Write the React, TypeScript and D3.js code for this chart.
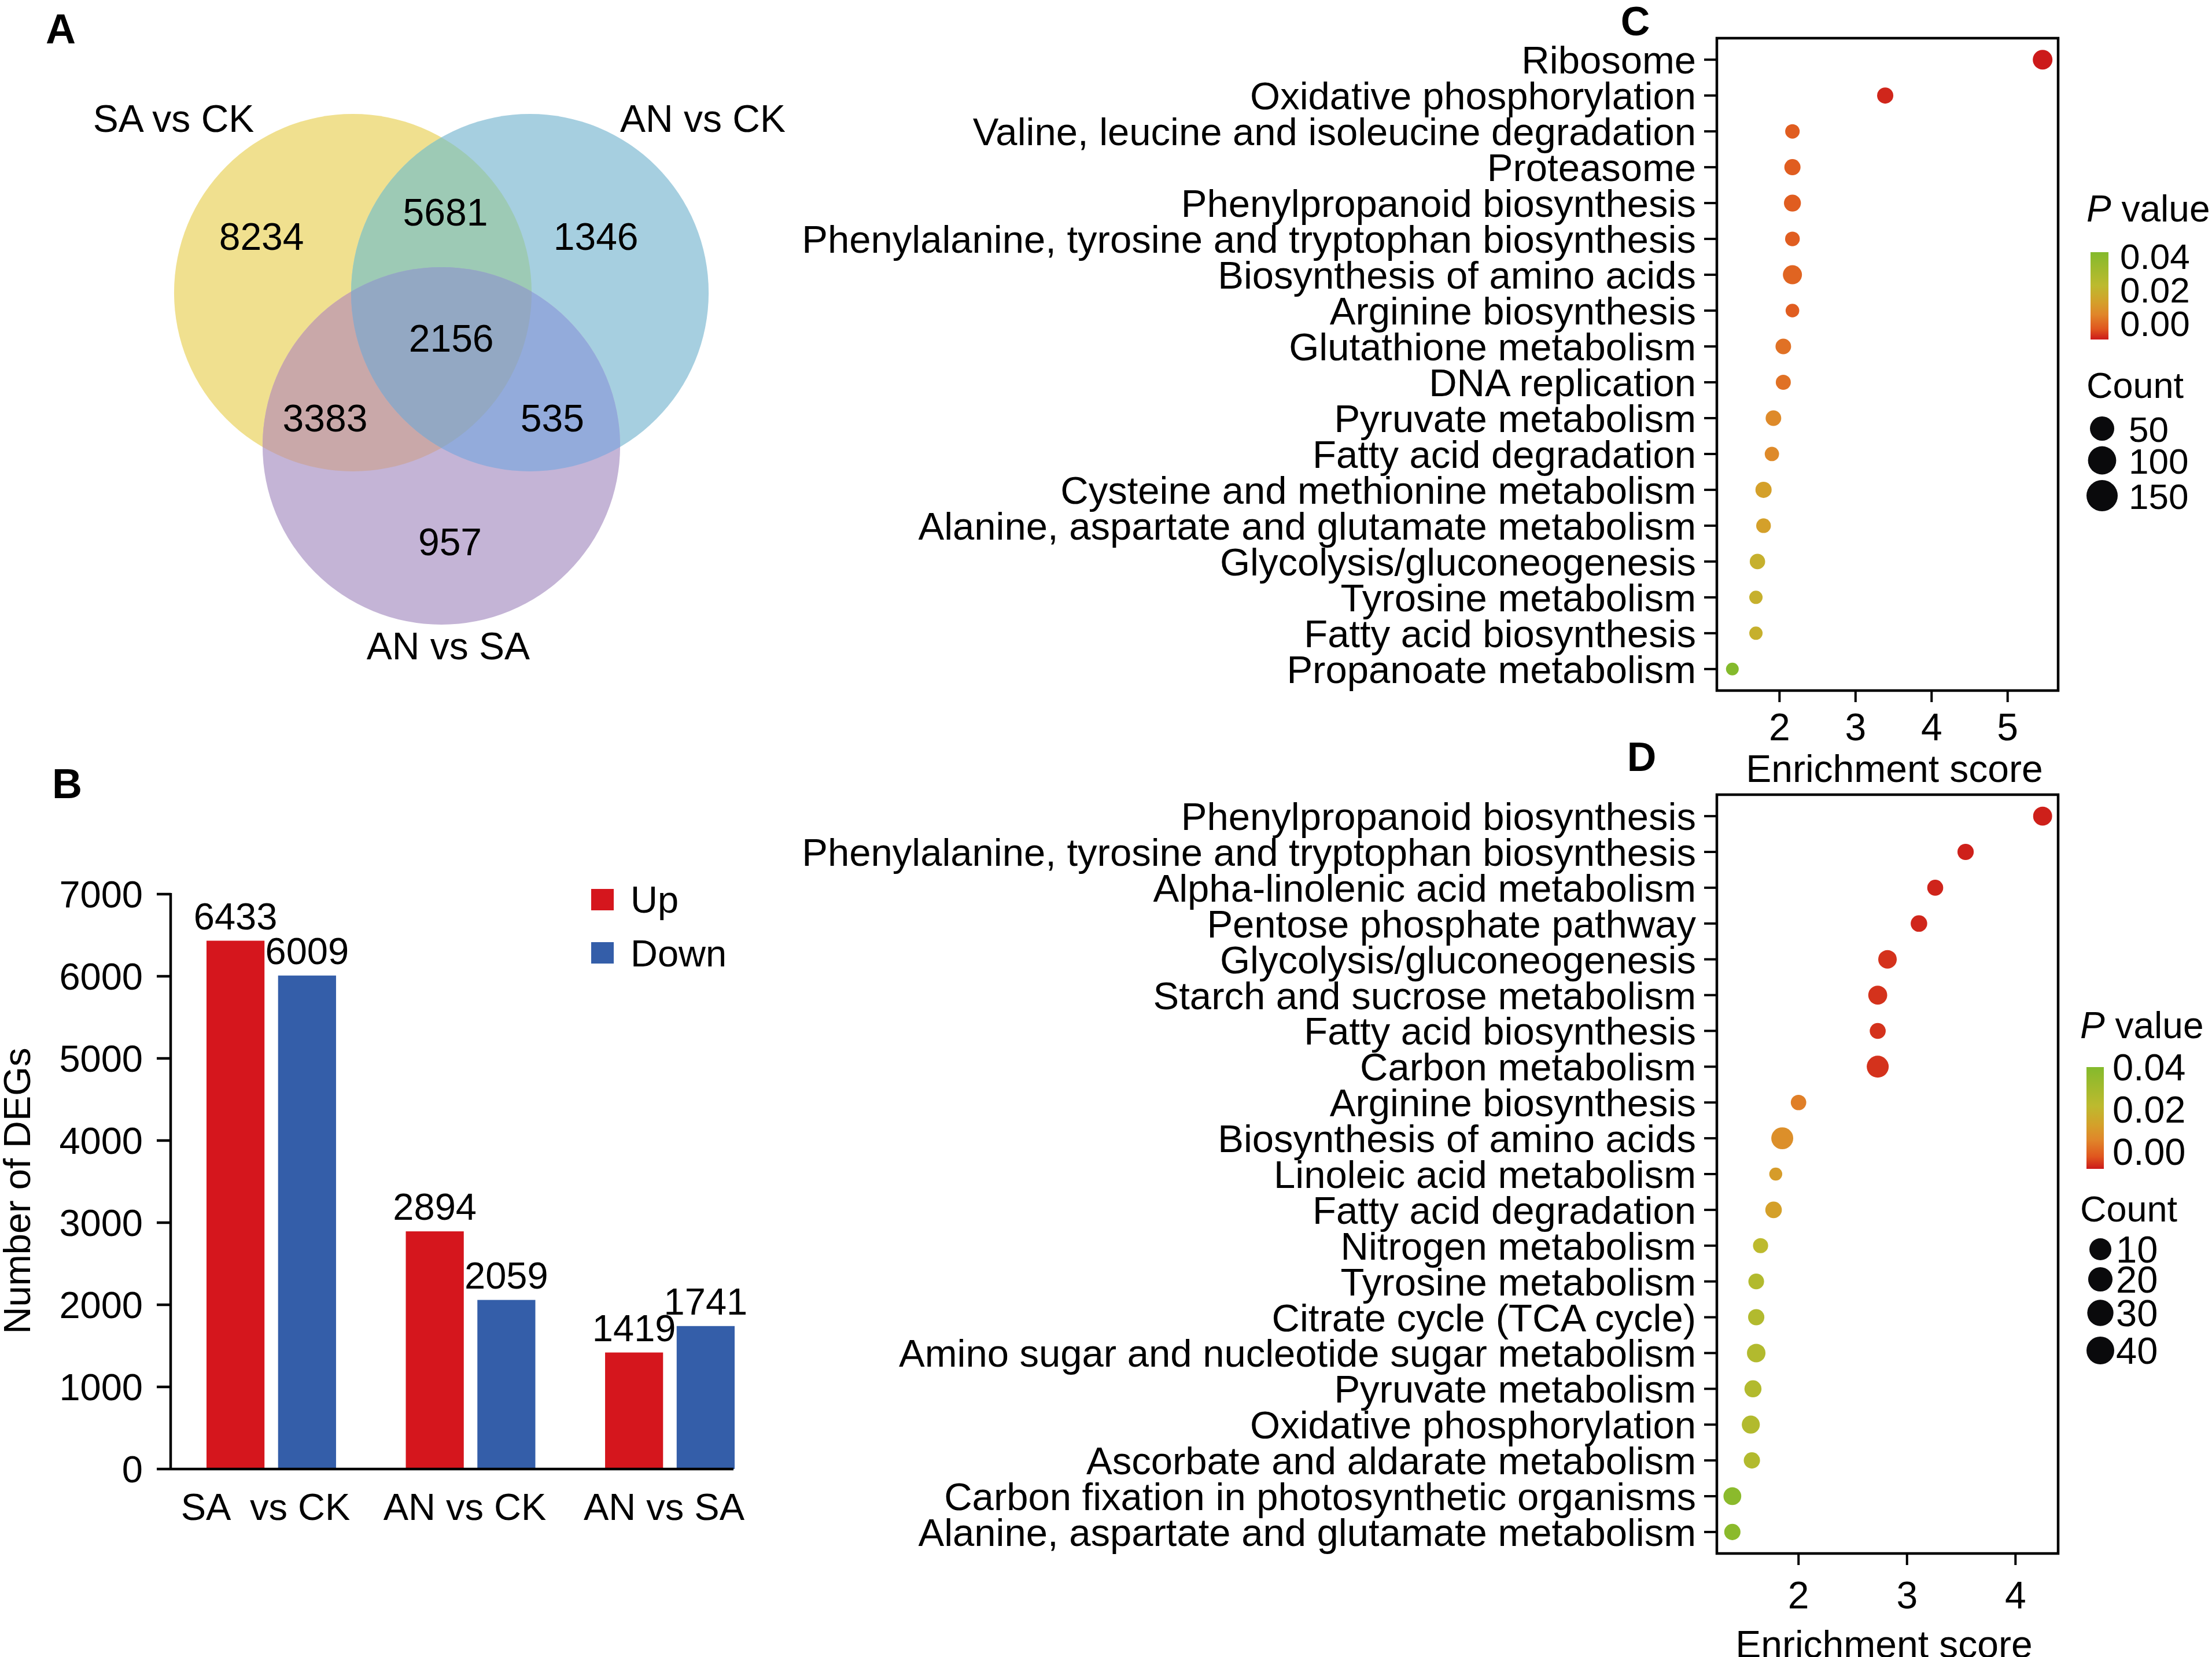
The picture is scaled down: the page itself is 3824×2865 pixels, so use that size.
import * as d3 from 'd3';

const FONT = '"Liberation Sans", Arial, Helvetica, sans-serif';
const W = 3824;
const H = 2865;

// ---- Panel A: Venn ----
const vennSets = ['SA vs CK', 'AN vs CK', 'AN vs SA'];
const vennSingleColors = ['#F0E08F', '#A6CFE0', '#C4B4D6'];
// pair colours: SA∩AN(CK), SA∩ANSA, ANCK∩ANSA
const vennPairColors = ['#9DCAB5', '#C9A8A9', '#93ABDB'];
const vennTripleColor = '#93A8C3';
const vennCounts = [8234, 5681, 1346, 2156, 3383, 535, 957];

// ---- Panel B: DEG bars ----
const degGroups = ['SA  vs CK', 'AN vs CK', 'AN vs SA'];
const degSeries = ['Up', 'Down'];
const degUp = [6433, 2894, 1419];
const degDown = [6009, 2059, 1741];
const degTicks = [0, 1000, 2000, 3000, 4000, 5000, 6000, 7000];
const degColors = ['#D5161D', '#345EA9'];

// ---- Panel C: KEGG enrichment ----
const cTerms = [
  'Ribosome',
  'Oxidative phosphorylation',
  'Valine, leucine and isoleucine degradation',
  'Proteasome',
  'Phenylpropanoid biosynthesis',
  'Phenylalanine, tyrosine and tryptophan biosynthesis',
  'Biosynthesis of amino acids',
  'Arginine biosynthesis',
  'Glutathione metabolism',
  'DNA replication',
  'Pyruvate metabolism',
  'Fatty acid degradation',
  'Cysteine and methionine metabolism',
  'Alanine, aspartate and glutamate metabolism',
  'Glycolysis/gluconeogenesis',
  'Tyrosine metabolism',
  'Fatty acid biosynthesis',
  'Propanoate metabolism',
];
const cScore = [5.46, 3.39, 2.17, 2.17, 2.17, 2.17, 2.17, 2.17, 2.05, 2.05, 1.92, 1.9, 1.79, 1.79, 1.71, 1.69, 1.69, 1.38];
const cCount = [150, 78, 47, 78, 93, 51, 137, 34, 67, 57, 67, 45, 78, 51, 63, 29, 29, 20];
const cP = [0.0, 0.001, 0.006, 0.006, 0.006, 0.006, 0.007, 0.006, 0.009, 0.009, 0.013, 0.013, 0.018, 0.018, 0.023, 0.023, 0.023, 0.042];
const cXTicks = [2, 3, 4, 5];
const cCountLegend = [50, 100, 150];

// ---- Panel D: KEGG enrichment ----
const dTerms = [
  'Phenylpropanoid biosynthesis',
  'Phenylalanine, tyrosine and tryptophan biosynthesis',
  'Alpha-linolenic acid metabolism',
  'Pentose phosphate pathway',
  'Glycolysis/gluconeogenesis',
  'Starch and sucrose metabolism',
  'Fatty acid biosynthesis',
  'Carbon metabolism',
  'Arginine biosynthesis',
  'Biosynthesis of amino acids',
  'Linoleic acid metabolism',
  'Fatty acid degradation',
  'Nitrogen metabolism',
  'Tyrosine metabolism',
  'Citrate cycle (TCA cycle)',
  'Amino sugar and nucleotide sugar metabolism',
  'Pyruvate metabolism',
  'Oxidative phosphorylation',
  'Ascorbate and aldarate metabolism',
  'Carbon fixation in photosynthetic organisms',
  'Alanine, aspartate and glutamate metabolism',
];
const dScore = [4.25, 3.54, 3.26, 3.11, 2.82, 2.73, 2.73, 2.73, 2.0, 1.85, 1.79, 1.77, 1.65, 1.61, 1.61, 1.61, 1.58, 1.56, 1.57, 1.39, 1.39];
const dCount = [26, 15, 14, 16, 24, 26, 14, 40, 12, 40, 4, 16, 11, 13, 15, 24, 18, 22, 15, 21, 15];
const dP = [0.0005, 0.0005, 0.0008, 0.001, 0.002, 0.002, 0.002, 0.002, 0.011, 0.014, 0.017, 0.018, 0.026, 0.029, 0.029, 0.029, 0.029, 0.029, 0.029, 0.04, 0.04];
const dXTicks = [2, 3, 4];
const dCountLegend = [10, 20, 30, 40];

const pLegendTicks = [0.04, 0.02, 0.0];
const pStops = [0, 0.005, 0.012, 0.018, 0.026, 0.042];
const pColors = ['#CC1A1A', '#E0561E', '#E0862A', '#D4A02A', '#BDBA2E', '#84BA2C'];

const pColor = d3
  .scaleLinear<string>()
  .domain(pStops)
  .range(pColors)
  .interpolate(d3.interpolateRgb)
  .clamp(true);

// Venn layout in circle-distance units
const vennCentres: [number, number][] = [[-0.5, 0], [0.5, 0], [0, 0.866]];
const vennRadius = 1.01;
const vennPairs: [number, number][] = [[0, 1], [0, 2], [1, 2]];
const vennRegionPos: [number, number][] = [
  [-1.016, -0.317], [0.023, -0.454], [0.873, -0.317], [0.056, 0.258],
  [-0.657, 0.709], [0.627, 0.709], [0.049, 1.407],
];
const vennSetPos: [number, number][] = [[-1.513, -0.984], [1.477, -0.984], [0.039, 1.997]];

const Venn = () => {
  const vx = d3.scaleLinear().domain([-0.5, 0.5]).range([610, 916]);
  const vy = d3.scaleLinear().domain([0, 1]).range([506, 812]);
  const r = vx(vennRadius) - vx(0);
  const circ = (i: number, fill: string, clip?: string) => (
    <circle
      cx={vx(vennCentres[i][0])}
      cy={vy(vennCentres[i][1])}
      r={r}
      fill={fill}
      clipPath={clip ? `url(#${clip})` : undefined}
    />
  );
  return (
    <g>
      <defs>
        {vennCentres.map(([cx, cy], i) => (
          <clipPath key={i} id={`vclip${i}`}>
            <circle cx={vx(cx)} cy={vy(cy)} r={r} />
          </clipPath>
        ))}
      </defs>
      <text x={79} y={75} fontSize={72} fontWeight="bold">A</text>
      {vennCentres.map((_, i) => (
        <g key={`s${i}`}>{circ(i, vennSingleColors[i])}</g>
      ))}
      {vennPairs.map(([a, b], k) => (
        <g key={`p${k}`}>{circ(b, vennPairColors[k], `vclip${a}`)}</g>
      ))}
      <g clipPath="url(#vclip0)">{circ(2, vennTripleColor, 'vclip1')}</g>
      {vennCounts.map((v, i) => (
        <text key={i} x={vx(vennRegionPos[i][0])} y={vy(vennRegionPos[i][1]) + 23} fontSize={66} textAnchor="middle">
          {v}
        </text>
      ))}
      {vennSets.map((s, i) => (
        <text key={s} x={vx(vennSetPos[i][0])} y={vy(vennSetPos[i][1]) + 23} fontSize={66} textAnchor="middle">
          {s}
        </text>
      ))}
    </g>
  );
};

const Bars = () => {
  const x0 = d3.scaleBand().domain(degGroups).range([357, 1270]).paddingInner(0.35).paddingOuter(0);
  const x1 = d3.scaleBand().domain(degSeries).range([0, x0.bandwidth()]).paddingInner(0.19);
  const y = d3.scaleLinear().domain([0, 7000]).range([2540, 1546]);
  const axisX0 = 295;
  const axisX1 = 1268;
  const vals = [degUp, degDown];
  return (
    <g>
      <text x={90} y={1380} fontSize={72} fontWeight="bold">B</text>
      {degGroups.map((g, gi) =>
        degSeries.map((s, si) => {
          const v = vals[si][gi];
          const bx = (x0(g) ?? 0) + (x1(s) ?? 0);
          return (
            <g key={g + s}>
              <rect x={bx} y={y(v)} width={x1.bandwidth()} height={y(0) - y(v)} fill={degColors[si]} />
              <text x={bx + x1.bandwidth() / 2} y={y(v) - 20} fontSize={65} textAnchor="middle">
                {v}
              </text>
            </g>
          );
        }),
      )}
      <line x1={axisX0} x2={axisX0} y1={y(7000) - 2} y2={y(0) + 2} stroke="#000" strokeWidth={4.5} />
      <line x1={axisX0} x2={axisX1} y1={y(0)} y2={y(0)} stroke="#000" strokeWidth={4.5} />
      {degTicks.map((t) => (
        <g key={t}>
          <line x1={axisX0 - 24} x2={axisX0} y1={y(t)} y2={y(t)} stroke="#000" strokeWidth={4.5} />
          <text x={247} y={y(t) + 23} fontSize={65} textAnchor="end">{t}</text>
        </g>
      ))}
      <text transform={`translate(52,${(y(0) + y(7000)) / 2 + 16}) rotate(-90)`} fontSize={65} textAnchor="middle">
        Number of DEGs
      </text>
      {degGroups.map((g) => (
        <text key={g} x={(x0(g) ?? 0) + x0.bandwidth() / 2 - 10} y={2628} fontSize={65} textAnchor="middle" style={{ whiteSpace: 'pre' }}>
          {g}
        </text>
      ))}
      {degSeries.map((s, i) => (
        <g key={s}>
          <rect x={1022} y={1537 + i * 92} width={39} height={37} fill={degColors[i]} />
          <text x={1090} y={1578 + i * 93} fontSize={65}>{s}</text>
        </g>
      ))}
    </g>
  );
};

interface DotProps {
  terms: string[];
  score: number[];
  count: number[];
  p: number[];
  xTicks: number[];
  top: number;
  bottom: number;
  area: d3.ScaleLinear<number, number>;
  letter: string;
  letterX: number;
  letterY: number;
  tickLabelY: number;
  titleX: number;
  titleY: number;
}

const DotPlot = ({ terms, score, count, p, xTicks, top, bottom, area, letter, letterX, letterY, tickLabelY, titleX, titleY }: DotProps) => {
  const left = 2968;
  const right = 3558;
  const [lo, hi] = d3.extent(score) as [number, number];
  const pad = (hi - lo) * 0.05;
  const x = d3.scaleLinear().domain([lo - pad, hi + pad]).range([left, right]);
  const y = d3.scalePoint().domain(terms).range([top, bottom]).padding(0.6);
  return (
    <g>
      <text x={letterX} y={letterY} fontSize={70} fontWeight="bold" textAnchor="middle">{letter}</text>
      {terms.map((t, i) => (
        <circle key={t} cx={x(score[i])} cy={y(t)} r={Math.sqrt(area(count[i]))} fill={pColor(p[i])} />
      ))}
      <rect x={left} y={top} width={right - left} height={bottom - top} fill="none" stroke="#000" strokeWidth={4.5} />
      {terms.map((t) => (
        <g key={t}>
          <line x1={left - 22} x2={left} y1={y(t)} y2={y(t)} stroke="#000" strokeWidth={4} />
          <text x={left - 36} y={(y(t) ?? 0) + 24} fontSize={67} textAnchor="end">{t}</text>
        </g>
      ))}
      {xTicks.map((t) => (
        <g key={t}>
          <line x1={x(t)} x2={x(t)} y1={bottom} y2={bottom + 20} stroke="#000" strokeWidth={4} />
          <text x={x(t)} y={tickLabelY} fontSize={66} textAnchor="middle">{t}</text>
        </g>
      ))}
      <text x={titleX} y={titleY} fontSize={66} textAnchor="middle">Enrichment score</text>
    </g>
  );
};

interface LegendProps {
  id: string;
  titleX: number;
  titleY: number;
  barX: number;
  barTop: number;
  barBottom: number;
  barW: number;
  labelX: number;
  labelTop: number;
  labelBottom: number;
  countTitleY: number;
  counts: number[];
  rScale: d3.ScalePower<number, number>;
  dotX: number;
  dotYs: number[];
  countLabelX: number;
  fontSize: number;
}

const Legend = (lp: LegendProps) => {
  const ly = d3.scaleLinear().domain([0.04, 0]).range([lp.labelTop, lp.labelBottom]);
  const pMax = pStops[pStops.length - 1];
  return (
    <g>
      <defs>
        <linearGradient id={lp.id} x1="0" y1="1" x2="0" y2="0">
          {pStops.map((s, i) => (
            <stop key={s} offset={s / pMax} stopColor={pColors[i]} />
          ))}
        </linearGradient>
      </defs>
      <text x={lp.titleX} y={lp.titleY} fontSize={64}>
        <tspan fontStyle="italic">P</tspan> value
      </text>
      <rect x={lp.barX} y={lp.barTop} width={lp.barW} height={lp.barBottom - lp.barTop} fill={`url(#${lp.id})`} />
      {pLegendTicks.map((t) => (
        <text key={t} x={lp.labelX} y={ly(t) + 23} fontSize={lp.fontSize}>{t.toFixed(2)}</text>
      ))}
      <text x={lp.titleX} y={lp.countTitleY} fontSize={63}>Count</text>
      {lp.counts.map((c, i) => (
        <g key={c}>
          <circle cx={lp.dotX} cy={lp.dotYs[i]} r={lp.rScale(c)} fill="#0A0A0C" />
          <text x={lp.countLabelX} y={lp.dotYs[i] + 23} fontSize={lp.fontSize}>{c}</text>
        </g>
      ))}
    </g>
  );
};

export default function App() {
  const areaC = d3.scaleLinear().domain([20, 150]).range([121, 289]);
  const areaD = d3.scaleLinear().domain([0, 40]).range([100, 360]);
  const legendRC = d3.scaleSqrt().domain([0, 150]).range([12.8, 27]);
  const legendRD = d3.scaleSqrt().domain([0, 40]).range([14, 24]);
  return (
    <svg
      width={W}
      height={H}
      viewBox={`0 0 ${W} ${H}`}
      style={{ position: 'absolute', left: 0, top: 0, background: '#fff', fontFamily: FONT }}
    >
      <rect width={W} height={H} fill="#fff" />
      <Venn />
      <Bars />
      <DotPlot
        terms={cTerms} score={cScore} count={cCount} p={cP} xTicks={cXTicks}
        top={66} bottom={1194} area={areaC}
        letter="C" letterX={2827} letterY={61}
        tickLabelY={1280} titleX={3275} titleY={1352}
      />
      <DotPlot
        terms={dTerms} score={dScore} count={dCount} p={dP} xTicks={dXTicks}
        top={1374} bottom={2686} area={areaD}
        letter="D" letterX={2838} letterY={1333}
        tickLabelY={2781} titleX={3257} titleY={2866}
      />
      <Legend
        id="gradC" titleX={3607} titleY={383} barX={3614} barTop={436} barBottom={587} barW={31}
        labelX={3665} labelTop={442} labelBottom={558} countTitleY={688}
        counts={cCountLegend} rScale={legendRC} dotX={3634} dotYs={[741, 796, 857]} countLabelX={3680} fontSize={62}
      />
      <Legend
        id="gradD" titleX={3596} titleY={1795} barX={3607} barTop={1845} barBottom={2021} barW={30}
        labelX={3652} labelTop={1845} labelBottom={1991} countTitleY={2112}
        counts={dCountLegend} rScale={legendRD} dotX={3631} dotYs={[2160, 2212, 2270, 2335]} countLabelX={3658} fontSize={65}
      />
    </svg>
  );
}
